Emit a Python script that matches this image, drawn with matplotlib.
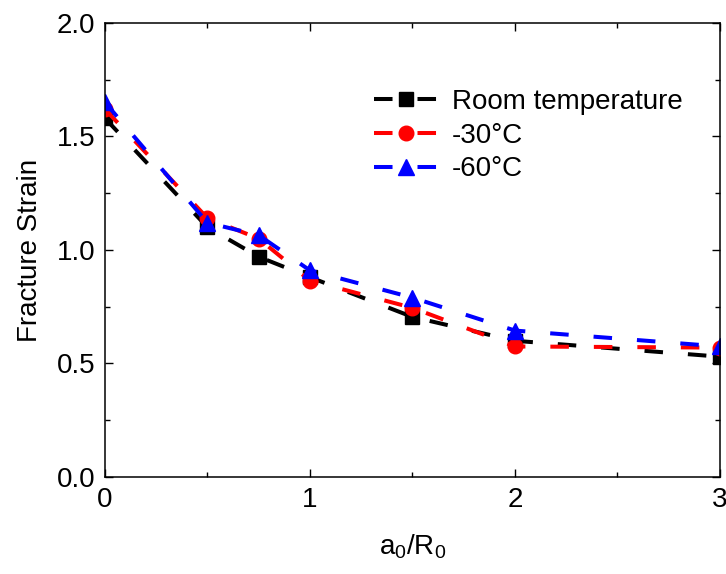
import matplotlib
matplotlib.use("Agg")
import matplotlib.pyplot as plt
from matplotlib.ticker import MultipleLocator

plt.rcParams['font.family'] = ['Liberation Sans', 'DejaVu Sans']
plt.rcParams['mathtext.fontset'] = 'custom'
plt.rcParams['mathtext.rm'] = 'Liberation Sans'
plt.rcParams['mathtext.default'] = 'regular'

# crack ratio a0/R0
a_ratio = [0, 0.5, 0.75, 1.0, 1.5, 2.0, 3.0]

# fracture strain at each temperature
room_temp = [1.58, 1.10, 0.97, 0.88, 0.705, 0.60, 0.53]
minus30 = [1.62, 1.14, 1.05, 0.865, 0.745, 0.575, 0.57]
minus60 = [1.65, 1.12, 1.065, 0.91, 0.79, 0.645, 0.575]

labels = ["Room temperature", "-30\u00b0C", "-60\u00b0C"]

fig = plt.figure(figsize=(7.26, 5.74), dpi=100)
ax = fig.add_axes([0.1446, 0.169, 0.8471, 0.791])

fs = 20
lw = 2.9
dash = [4.6, 6.2]

ax.plot(a_ratio, room_temp, color='black', marker='s', markersize=9.5, lw=lw,
        dashes=dash, label=labels[0])
ax.plot(a_ratio, minus30, color='red', marker='o', markersize=10.5, lw=lw,
        dashes=dash, label=labels[1])
ax.plot(a_ratio, minus60, color='blue', marker='^', markersize=11, lw=lw,
        dashes=dash, label=labels[2])

ax.set_xlim(0, 3)
ax.set_ylim(0, 2.0)
ax.xaxis.set_major_locator(MultipleLocator(1))
ax.xaxis.set_minor_locator(MultipleLocator(0.5))
ax.yaxis.set_major_locator(MultipleLocator(0.5))
ax.yaxis.set_minor_locator(MultipleLocator(0.25))
ax.set_yticklabels([f"{v:.1f}" for v in ax.get_yticks()])

ax.tick_params(which='both', direction='in', top=True, right=True,
               labelsize=fs, width=1)
ax.tick_params(which='major', length=6, pad=7)
ax.tick_params(which='minor', length=3.5)
for s in ax.spines.values():
    s.set_linewidth(1.1)

ax.set_xlabel(r'a$_0$/R$_0$', fontsize=fs, labelpad=14)
ax.set_ylabel("Fracture Strain", fontsize=fs, labelpad=10)

ax.legend(loc='upper left', bbox_to_anchor=(0.437, 0.855), frameon=False,
          fontsize=fs, handlelength=2.3, handletextpad=0.5,
          borderpad=0, borderaxespad=0, labelspacing=0.28)

fig.savefig("out.png", dpi=100)
